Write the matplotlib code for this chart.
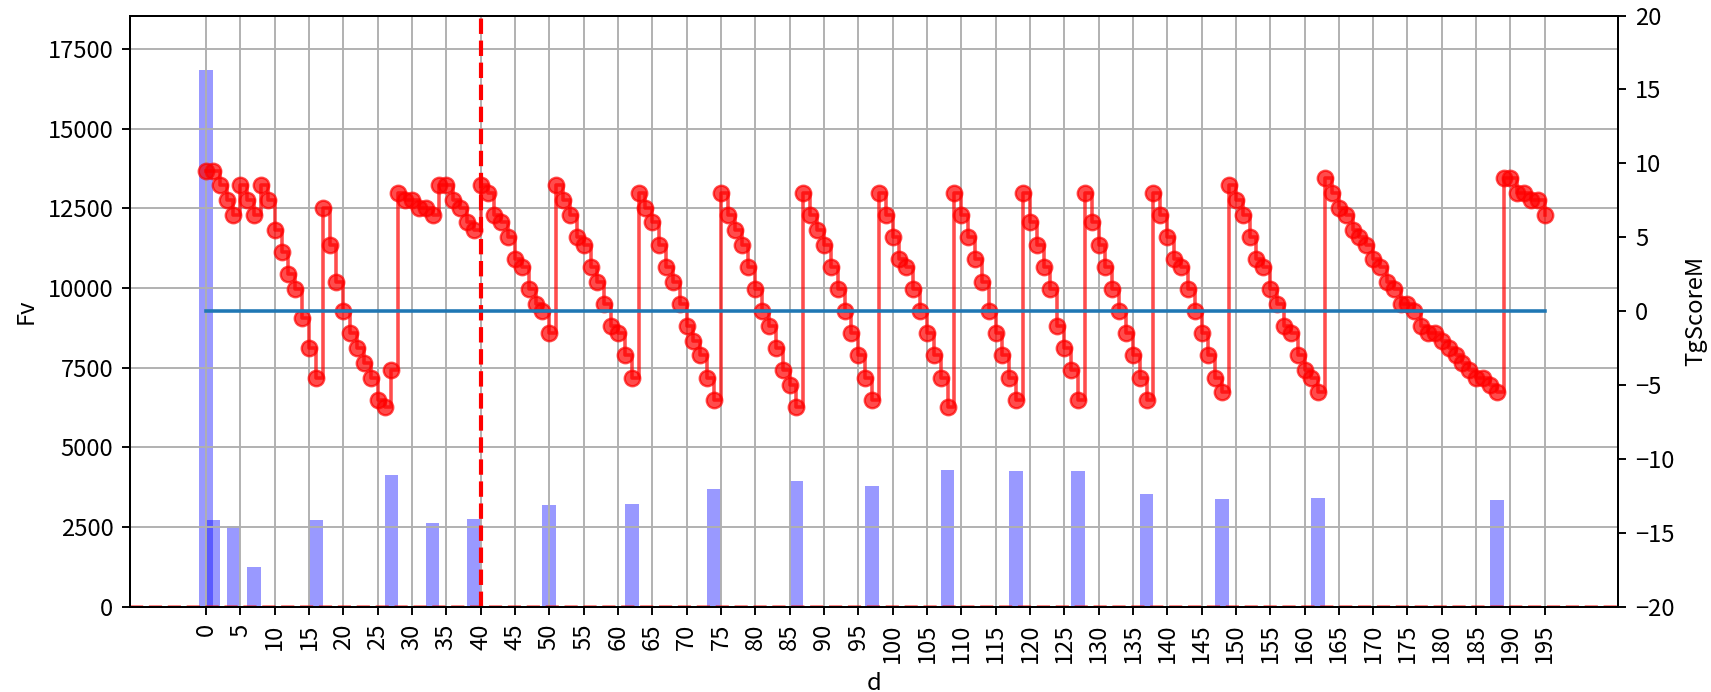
import matplotlib
matplotlib.use("Agg")
import matplotlib.pyplot as plt
import numpy as np

plt.rcParams['font.family'] = ['Noto Sans CJK JP', 'DejaVu Sans']

# TgScoreM for d = 0..195
tg_score = [
    9.5, 9.5, 8.5, 7.5, 6.5, 8.5, 7.5, 6.5, 8.5, 7.5,
    5.5, 4.0, 2.5, 1.5, -0.5, -2.5, -4.5, 7.0, 4.5, 2.0,
    0.0, -1.5, -2.5, -3.5, -4.5, -6.0, -6.5, -4.0, 8.0, 7.5,
    7.5, 7.0, 7.0, 6.5, 8.5, 8.5, 7.5, 7.0, 6.0, 5.5,
    8.5, 8.0, 6.5, 6.0, 5.0, 3.5, 3.0, 1.5, 0.5, 0.0,
    -1.5, 8.5, 7.5, 6.5, 5.0, 4.5, 3.0, 2.0, 0.5, -1.0,
    -1.5, -3.0, -4.5, 8.0, 7.0, 6.0, 4.5, 3.0, 2.0, 0.5,
    -1.0, -2.0, -3.0, -4.5, -6.0, 8.0, 6.5, 5.5, 4.5, 3.0,
    1.5, 0.0, -1.0, -2.5, -4.0, -5.0, -6.5, 8.0, 6.5, 5.5,
    4.5, 3.0, 1.5, 0.0, -1.5, -3.0, -4.5, -6.0, 8.0, 6.5,
    5.0, 3.5, 3.0, 1.5, 0.0, -1.5, -3.0, -4.5, -6.5, 8.0,
    6.5, 5.0, 3.5, 2.0, 0.0, -1.5, -3.0, -4.5, -6.0, 8.0,
    6.0, 4.5, 3.0, 1.5, -1.0, -2.5, -4.0, -6.0, 8.0, 6.0,
    4.5, 3.0, 1.5, 0.0, -1.5, -3.0, -4.5, -6.0, 8.0, 6.5,
    5.0, 3.5, 3.0, 1.5, 0.0, -1.5, -3.0, -4.5, -5.5, 8.5,
    7.5, 6.5, 5.0, 3.5, 3.0, 1.5, 0.5, -1.0, -1.5, -3.0,
    -4.0, -4.5, -5.5, 9.0, 8.0, 7.0, 6.5, 5.5, 5.0, 4.5,
    3.5, 3.0, 2.0, 1.5, 0.5, 0.5, 0.0, -1.0, -1.5, -1.5,
    -2.0, -2.5, -3.0, -3.5, -4.0, -4.5, -4.5, -5.0, -5.5, 9.0,
    9.0, 8.0, 8.0, 7.5, 7.5, 6.5,
]
d = np.arange(len(tg_score))

# Fv bars
fv_d = [0, 1, 4, 7, 16, 27, 33, 39, 50, 62, 74, 86, 97, 108, 118, 127, 137, 148, 162, 188]
fv = [16850, 2720, 2530, 1255, 2720, 4130, 2630, 2750, 3190, 3220,
      3680, 3950, 3790, 4300, 4270, 4270, 3540, 3370, 3400, 3350]

fig = plt.figure(figsize=(10, 692 / 171.1), dpi=171.1)
ax = fig.add_axes([0.076, 0.1233, 0.8698, 0.8543])

ax.bar(fv_d, fv, width=2, color='blue', alpha=0.4)
ax.axvline(40, color='r', linestyle='--', linewidth=1.75)
ax.axhline(0, color='r', linestyle='--', linewidth=1.5, alpha=0.6)
ax.set_ylim(0, 18550)
ax.set_xlim(-11.07, 205.7)
ax.set_xticks(range(0, 200, 5))
ax.tick_params(axis='x', labelrotation=90)
ax.grid(True, linewidth=0.8)
ax.set_xlabel('d')
ax.set_ylabel('Fv')

ax2 = ax.twinx()
ax2.plot(d, tg_score, color='red', marker='o', markersize=6.5, alpha=0.7,
         drawstyle='steps-post')
ax2.plot([d[0], d[-1]], [0, 0], color='#1f77b4', linewidth=1.5)
ax2.set_ylim(-20, 20)
ax2.set_ylabel('TgScoreM')

fig.savefig('out.png', dpi=171.1)
